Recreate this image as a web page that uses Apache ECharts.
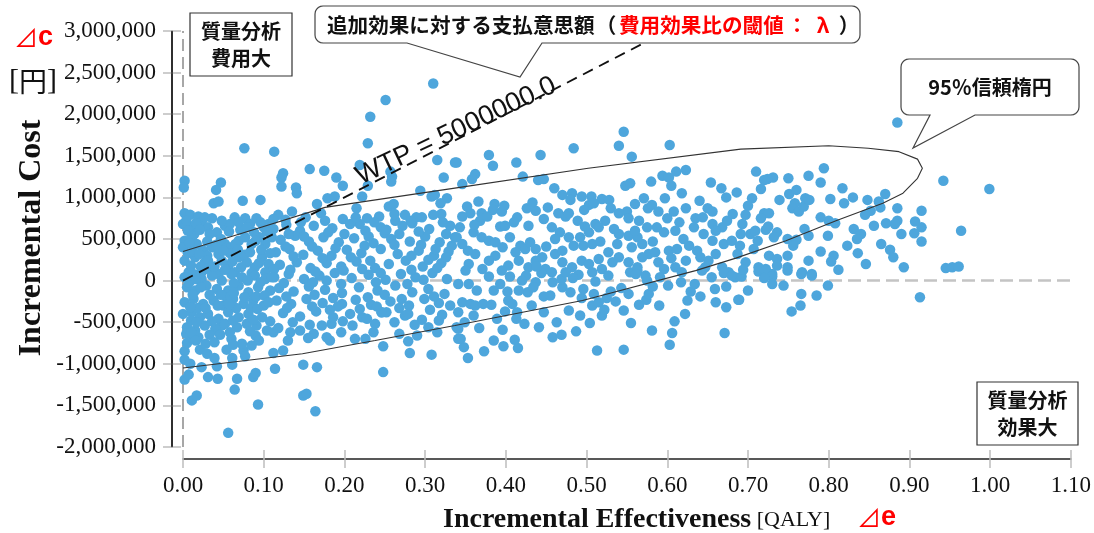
<!DOCTYPE html>
<html><head><meta charset="utf-8">
<script src="https://cdn.jsdelivr.net/npm/echarts@6/dist/echarts.min.js"></script>
<style>html,body{margin:0;padding:0;background:#fff}#c{width:1094px;height:533px}</style>
</head><body><div id="c"></div>
<script>
// ---- data ----
const xTickValues = [0,0.1,0.2,0.3,0.4,0.5,0.6,0.7,0.8,0.9,1.0,1.1];
const yTickValues = [-2000000,-1500000,-1000000,-500000,0,500000,1000000,1500000,2000000,2500000,3000000];
const wtpValue = 5000000;
const wtpLine = [[0,0],[0.6,3000000]];
const wtpLabel = 'WTP = 5000000.0';
const ellipse95 = [[0,350000],[0.083,600000],[0.176,880000],[0.343,1120000],[0.502,1350000],[0.691,1580000],[0.800,1620000],[0.849,1590000],[0.887,1550000],[0.910,1460000],[0.916,1350000],[0.910,1230000],[0.892,1050000],[0.867,930000],[0.809,720000],[0.747,480000],[0.685,270000],[0.635,120000],[0.495,-240000],[0.337,-540000],[0.238,-720000],[0.148,-880000],[0,-1050000]];

const pointsUpperLeft = [[0.310,2370000],[0.251,2170000],[0.232,1970000],[0.229,1650000],[0.076,1590000],[0.113,1550000],[0.002,1200000],[0.001,1120000],[0.047,1180000],[0.041,1090000],[0.038,930000],[0.044,950000],[0.074,960000],[0.096,970000],[0.124,1290000],[0.122,1240000],[0.122,1130000],[0.140,1120000],[0.141,1050000],[0.157,1340000],[0.175,1320000],[0.190,1240000],[0.198,1140000],[0.219,1390000],[0.229,1140000],[0.222,1010000],[0.259,1250000],[0.258,1190000],[0.257,1310000],[0.315,1450000],[0.323,1240000],[0.337,1420000],[0.294,1080000],[0.308,1010000],[0.312,1030000],[0.327,990000],[0.319,930000],[0.320,800000],[0.166,920000],[0.179,990000],[0.188,1010000],[0.215,870000],[0.255,890000],[0.261,920000],[0.243,770000],[0.228,750000],[0.219,680000],[0.245,640000],[0.250,570000],[0.263,720000],[0.275,790000],[0.284,690000],[0.296,760000],[0.331,660000],[0.337,520000]];

const pointsLowerLeft = [[0.056,-1830000],[0.093,-1490000],[0.164,-1570000],[0.149,-1380000],[0.153,-1360000],[0.011,-1440000],[0.017,-1380000],[0.064,-1310000],[0.002,-1190000],[0.007,-1130000],[0.031,-1160000],[0.043,-1180000],[0.067,-1180000],[0.087,-1160000],[0.090,-1110000],[0.114,-1060000],[0.149,-1010000],[0.166,-1040000],[0.248,-1100000],[0.023,-1040000],[0.039,-930000],[0.042,-1030000],[0.061,-930000],[0.061,-1010000],[0.054,-830000],[0.075,-840000],[0.077,-910000],[0.112,-870000],[0.124,-840000],[0.248,-790000],[0.281,-870000],[0.279,-730000],[0.308,-890000],[0.315,-620000],[0.213,-700000],[0.226,-700000],[0.182,-720000],[0.178,-680000],[0.002,-850000],[0.005,-750000],[0.013,-700000],[0.021,-830000],[0.019,-680000],[0.060,-700000],[0.090,-660000],[0.042,-600000],[0.048,-540000],[0.112,-620000],[0.118,-570000],[0.133,-620000],[0.145,-600000],[0.162,-640000],[0.210,-540000],[0.172,-540000],[0.184,-520000],[0.341,-700000],[0.341,-580000],[0.304,-560000],[0.317,-480000],[0.246,-380000],[0.222,-440000],[0.197,-280000]];

const pointsMiddle = [[0.546,1790000],[0.540,1620000],[0.556,1490000],[0.603,1630000],[0.484,1590000],[0.443,1510000],[0.413,1420000],[0.379,1510000],[0.384,1380000],[0.339,1420000],[0.362,1280000],[0.358,1220000],[0.346,1160000],[0.421,1250000],[0.440,1210000],[0.447,1220000],[0.460,1110000],[0.470,1030000],[0.482,1050000],[0.494,1010000],[0.506,1010000],[0.519,980000],[0.528,970000],[0.480,970000],[0.503,910000],[0.509,930000],[0.548,1140000],[0.554,1170000],[0.580,1190000],[0.594,1260000],[0.602,1240000],[0.605,1140000],[0.611,1310000],[0.623,1330000],[0.571,990000],[0.654,1180000],[0.667,1110000],[0.673,1000000],[0.623,870000],[0.650,870000],[0.656,830000],[0.576,870000],[0.581,910000],[0.589,830000],[0.540,810000],[0.550,830000],[0.552,750000],[0.426,870000],[0.437,840000],[0.414,760000],[0.386,920000],[0.384,850000],[0.366,950000],[0.370,810000],[0.346,770000],[0.356,810000],[0.465,810000],[0.474,770000],[0.478,810000],[0.511,680000],[0.523,720000],[0.608,830000],[0.600,750000],[0.635,750000],[0.633,640000],[0.656,680000],[0.668,640000],[0.674,720000],[0.645,560000],[0.587,640000],[0.596,580000],[0.565,720000],[0.575,640000],[0.552,540000],[0.563,520000],[0.540,560000],[0.393,650000],[0.399,660000],[0.368,720000],[0.377,770000],[0.343,640000],[0.339,520000],[0.360,580000],[0.370,520000],[0.379,480000],[0.387,460000],[0.405,520000],[0.418,420000],[0.424,380000],[0.437,380000],[0.457,640000],[0.467,580000],[0.461,500000],[0.478,520000],[0.492,520000],[0.503,580000],[0.515,640000],[0.484,420000],[0.496,420000],[0.507,440000],[0.527,340000],[0.494,240000],[0.503,200000],[0.515,260000],[0.461,320000],[0.470,220000],[0.412,340000],[0.416,240000],[0.428,160000],[0.437,240000],[0.362,320000],[0.354,200000],[0.350,120000],[0.387,300000],[0.556,400000],[0.569,440000],[0.577,320000],[0.585,340000],[0.602,360000],[0.612,380000],[0.627,420000],[0.637,360000],[0.641,280000],[0.647,160000],[0.623,240000],[0.589,220000],[0.596,140000],[0.552,220000],[0.563,160000],[0.569,280000],[0.668,160000],[0.676,100000],[0.684,40000],[0.670,440000],[0.680,480000],[0.687,320000],[0.656,480000],[0.346,440000],[0.379,240000],[0.403,180000],[0.445,280000],[0.449,140000],[0.482,160000],[0.519,140000],[0.532,220000],[0.610,160000],[0.651,240000],[0.395,830000]];

const pointsRight = [[0.885,1900000],[0.794,1350000],[0.942,1200000],[0.999,1100000],[0.964,600000],[0.945,150000],[0.953,160000],[0.961,170000],[0.893,160000],[0.915,840000],[0.915,640000],[0.907,710000],[0.906,570000],[0.915,470000],[0.885,870000],[0.885,720000],[0.882,680000],[0.871,690000],[0.865,440000],[0.876,370000],[0.870,1040000],[0.862,950000],[0.864,880000],[0.852,840000],[0.848,970000],[0.831,620000],[0.840,560000],[0.835,500000],[0.836,330000],[0.817,1110000],[0.819,930000],[0.802,980000],[0.800,720000],[0.808,690000],[0.799,540000],[0.806,300000],[0.803,230000],[0.775,1260000],[0.750,1230000],[0.731,1240000],[0.724,1220000],[0.720,1210000],[0.710,1310000],[0.716,1100000],[0.705,990000],[0.739,970000],[0.751,1040000],[0.760,1090000],[0.758,930000],[0.755,870000],[0.763,830000],[0.769,890000],[0.771,990000],[0.776,970000],[0.720,810000],[0.726,810000],[0.697,790000],[0.693,680000],[0.691,560000],[0.725,650000],[0.722,610000],[0.736,580000],[0.732,520000],[0.703,560000],[0.709,600000],[0.770,620000],[0.775,540000],[0.749,500000],[0.760,490000],[0.756,420000],[0.726,300000],[0.736,260000],[0.749,300000],[0.749,160000],[0.736,180000],[0.697,220000],[0.713,160000],[0.722,140000],[0.730,80000],[0.775,240000],[0.767,100000],[0.779,80000],[0.692,50000],[0.689,-230000],[0.713,110000],[0.722,120000],[0.730,50000],[0.730,-40000],[0.749,120000],[0.766,80000],[0.779,60000],[0.766,-160000],[0.785,-180000],[0.765,-300000],[0.754,-370000],[0.913,-200000]];

const pointsMiddleLow = [[0.353,-930000],[0.373,-850000],[0.397,-790000],[0.415,-810000],[0.411,-710000],[0.385,-720000],[0.348,-800000],[0.344,-700000],[0.458,-680000],[0.469,-650000],[0.463,-500000],[0.513,-840000],[0.546,-830000],[0.504,-510000],[0.555,-510000],[0.581,-600000],[0.606,-630000],[0.609,-490000],[0.603,-770000],[0.671,-630000],[0.673,-320000],[0.688,-230000],[0.625,-240000],[0.629,-130000],[0.641,-190000],[0.659,-100000],[0.601,-60000],[0.634,-40000],[0.673,-70000],[0.546,-360000],[0.565,-290000],[0.574,-230000],[0.552,-160000],[0.577,-160000],[0.582,-70000],[0.575,0],[0.543,-90000],[0.519,-420000],[0.522,-350000],[0.507,-300000],[0.525,-210000],[0.515,-260000],[0.509,-160000],[0.494,-210000],[0.496,-100000],[0.511,-10000],[0.490,70000],[0.507,100000],[0.458,-20000],[0.470,-80000],[0.469,20000],[0.447,-190000],[0.455,-180000],[0.447,-380000],[0.437,-20000],[0.427,-140000],[0.416,-120000],[0.423,-520000],[0.413,-460000],[0.399,-370000],[0.403,-240000],[0.408,-280000],[0.414,-380000],[0.389,-460000],[0.367,-570000],[0.349,-500000],[0.341,-380000],[0.339,-560000],[0.346,-260000],[0.356,-280000],[0.362,-300000],[0.372,-280000],[0.382,-290000],[0.385,-120000],[0.393,-40000],[0.379,50000],[0.341,-40000],[0.354,-40000],[0.405,50000],[0.425,60000],[0.444,90000],[0.457,100000],[0.474,100000],[0.554,100000],[0.563,120000],[0.573,60000],[0.591,40000],[0.618,100000],[0.643,120000],[0.670,90000],[0.680,60000]];

const pointsLeftDense = [[0.002,810000],[0.009,790000],[0.019,770000],[0.000,680000],[0.011,640000],[0.023,700000],[0.031,640000],[0.036,750000],[0.042,580000],[0.052,660000],[0.058,680000],[0.064,760000],[0.077,750000],[0.083,680000],[0.091,750000],[0.100,640000],[0.106,680000],[0.002,480000],[0.011,520000],[0.000,400000],[0.017,440000],[0.025,360000],[0.036,400000],[0.044,320000],[0.052,440000],[0.060,400000],[0.069,480000],[0.077,520000],[0.085,440000],[0.095,520000],[0.102,440000],[0.110,520000],[0.002,240000],[0.015,280000],[0.027,220000],[0.036,160000],[0.048,240000],[0.056,180000],[0.069,280000],[0.079,220000],[0.089,160000],[0.098,280000],[0.106,200000],[0.007,100000],[0.023,100000],[0.044,80000],[0.064,100000],[0.085,90000],[0.102,100000],[0.002,40000],[0.013,80000],[0.023,20000],[0.036,60000],[0.048,0],[0.060,80000],[0.073,40000],[0.089,60000],[0.102,20000],[0.005,-80000],[0.015,-120000],[0.029,-60000],[0.042,-100000],[0.056,-120000],[0.069,-60000],[0.081,-140000],[0.093,-80000],[0.108,-120000],[0.002,-260000],[0.013,-220000],[0.025,-280000],[0.038,-240000],[0.050,-300000],[0.062,-220000],[0.075,-280000],[0.087,-240000],[0.100,-300000],[0.000,-400000],[0.011,-380000],[0.021,-440000],[0.031,-400000],[0.044,-460000],[0.056,-380000],[0.069,-440000],[0.081,-400000],[0.098,-440000],[0.005,-560000],[0.015,-600000],[0.027,-540000],[0.040,-580000],[0.052,-520000],[0.067,-560000],[0.079,-520000],[0.091,-540000],[0.006,330000],[0.030,300000],[0.058,330000],[0.071,610000],[0.014,560000],[0.047,500000],[0.088,580000],[0.097,370000],[0.033,-170000],[0.066,-330000],[0.010,-480000],[0.084,-330000],[0.046,-650000],[0.073,-760000],[0.028,-760000],[0.094,-720000],[0.004,-640000],[0.018,-330000],[0.054,-200000],[0.091,-190000],[0.039,170000],[0.076,310000],[0.008,-20000],[0.063,-30000]];

const pointsCenterLeft = [[0.118,790000],[0.135,830000],[0.152,760000],[0.171,810000],[0.198,740000],[0.262,800000],[0.289,760000],[0.112,620000],[0.128,670000],[0.145,600000],[0.162,660000],[0.185,630000],[0.207,680000],[0.226,600000],[0.272,660000],[0.305,620000],[0.322,700000],[0.121,490000],[0.139,540000],[0.156,470000],[0.174,520000],[0.193,460000],[0.212,510000],[0.236,450000],[0.258,500000],[0.281,470000],[0.300,530000],[0.318,460000],[0.333,420000],[0.115,340000],[0.132,380000],[0.149,310000],[0.167,360000],[0.184,300000],[0.203,370000],[0.221,330000],[0.245,380000],[0.266,320000],[0.292,360000],[0.311,300000],[0.329,350000],[0.120,190000],[0.141,220000],[0.158,150000],[0.178,210000],[0.196,170000],[0.215,230000],[0.238,150000],[0.255,200000],[0.276,240000],[0.297,170000],[0.320,210000],[0.113,40000],[0.131,80000],[0.150,20000],[0.169,60000],[0.188,90000],[0.209,30000],[0.230,70000],[0.251,10000],[0.270,80000],[0.288,40000],[0.309,90000],[0.327,20000],[0.119,-90000],[0.137,-130000],[0.156,-70000],[0.176,-110000],[0.197,-150000],[0.218,-80000],[0.241,-120000],[0.263,-60000],[0.284,-140000],[0.304,-100000],[0.324,-160000],[0.116,-240000],[0.134,-280000],[0.153,-220000],[0.173,-270000],[0.192,-310000],[0.214,-230000],[0.233,-290000],[0.257,-250000],[0.280,-300000],[0.299,-220000],[0.317,-270000],[0.124,-390000],[0.145,-430000],[0.165,-370000],[0.186,-440000],[0.207,-400000],[0.228,-460000],[0.252,-380000],[0.275,-420000],[0.296,-470000],[0.321,-410000],[0.279,-400000],[0.246,-380000]];

const pointsLeftExtra = [[0.004,720000],[0.016,690000],[0.027,760000],[0.048,720000],[0.069,700000],[0.096,700000],[0.112,740000],[0.006,600000],[0.021,610000],[0.033,560000],[0.057,590000],[0.079,640000],[0.104,590000],[0.008,450000],[0.030,470000],[0.041,430000],[0.065,440000],[0.090,480000],[0.012,350000],[0.020,320000],[0.050,360000],[0.068,370000],[0.083,340000],[0.108,330000],[0.010,180000],[0.022,170000],[0.031,240000],[0.061,230000],[0.072,160000],[0.094,210000],[0.113,140000],[0.016,20000],[0.028,140000],[0.052,130000],[0.080,0],[0.096,-20000],[0.110,40000],[0.012,-170000],[0.022,-80000],[0.047,-170000],[0.063,-150000],[0.076,-200000],[0.101,-180000],[0.009,-320000],[0.028,-330000],[0.043,-300000],[0.057,-280000],[0.092,-340000],[0.106,-260000],[0.017,-500000],[0.036,-490000],[0.062,-480000],[0.087,-470000],[0.108,-490000],[0.010,-620000],[0.033,-650000],[0.058,-620000],[0.083,-610000],[0.104,-600000],[0.016,-720000],[0.039,-740000],[0.062,-770000],[0.085,-780000],[0.002,-950000],[0.009,-1000000],[0.030,-880000]];

const pointsCenterExtra = [[0.127,730000],[0.146,700000],[0.176,720000],[0.214,760000],[0.237,700000],[0.282,720000],[0.310,790000],[0.131,560000],[0.150,530000],[0.180,580000],[0.200,560000],[0.230,530000],[0.252,610000],[0.268,560000],[0.292,590000],[0.326,560000],[0.127,410000],[0.160,410000],[0.189,390000],[0.225,420000],[0.262,430000],[0.295,430000],[0.313,380000],[0.137,290000],[0.173,270000],[0.208,280000],[0.232,240000],[0.283,300000],[0.304,250000],[0.326,280000],[0.133,130000],[0.164,110000],[0.199,120000],[0.222,140000],[0.245,90000],[0.283,130000],[0.315,150000],[0.125,-30000],[0.161,-20000],[0.178,0],[0.196,-40000],[0.239,-20000],[0.278,-40000],[0.298,10000],[0.128,-190000],[0.163,-170000],[0.186,-210000],[0.229,-200000],[0.250,-170000],[0.271,-220000],[0.311,-190000],[0.129,-330000],[0.160,-310000],[0.182,-350000],[0.219,-340000],[0.240,-310000],[0.268,-330000],[0.306,-350000],[0.331,-300000],[0.136,-500000],[0.157,-530000],[0.198,-490000],[0.238,-520000],[0.262,-500000],[0.287,-530000],[0.130,-720000],[0.155,-690000],[0.196,-620000],[0.236,-620000],[0.268,-640000],[0.290,-660000]];

const pointsMiddleExtra = [[0.352,890000],[0.398,900000],[0.433,940000],[0.452,880000],[0.497,850000],[0.530,870000],[0.361,670000],[0.410,700000],[0.428,660000],[0.447,740000],[0.489,720000],[0.498,650000],[0.534,620000],[0.353,360000],[0.396,400000],[0.430,460000],[0.450,410000],[0.470,360000],[0.517,470000],[0.538,440000],[0.371,140000],[0.395,120000],[0.420,0],[0.438,170000],[0.483,30000],[0.527,60000],[0.540,280000],[0.364,-120000],[0.402,-130000],[0.434,-80000],[0.480,-140000],[0.530,-130000],[0.360,-420000],[0.432,-300000],[0.478,-360000],[0.492,-420000],[0.536,-250000],[0.396,-590000],[0.441,-560000],[0.487,-610000]];

const pointsRightExtra = [[0.560,920000],[0.597,990000],[0.618,1050000],[0.640,960000],[0.686,1060000],[0.700,900000],[0.615,700000],[0.644,760000],[0.681,800000],[0.716,750000],[0.560,600000],[0.610,600000],[0.660,600000],[0.712,480000],[0.582,470000],[0.620,500000],[0.690,420000],[0.707,380000],[0.561,80000],[0.605,270000],[0.660,320000],[0.694,130000],[0.720,30000],[0.617,-20000],[0.655,40000],[0.590,-300000],[0.622,-400000],[0.660,-260000],[0.700,-120000],[0.744,-60000],[0.790,1180000],[0.830,1000000],[0.790,760000],[0.845,790000],[0.823,420000],[0.790,350000],[0.856,660000],[0.890,560000],[0.812,130000],[0.846,200000],[0.799,-60000],[0.880,280000]];

const points = [].concat(pointsUpperLeft, pointsLowerLeft, pointsMiddle, pointsRight, pointsMiddleLow, pointsLeftDense, pointsCenterLeft, pointsLeftExtra, pointsCenterExtra, pointsMiddleExtra, pointsRightExtra);

// ---- helpers for annotation shapes (pixel layout) ----
function calloutPoints(x1, y1, x2, y2, r, baseL, baseR, tip) {
  const pts = [];
  function arc(cx, cy, a0, a1) {
    const n = 5;
    for (let i = 0; i <= n; i++) {
      const a = a0 + (a1 - a0) * i / n;
      pts.push([cx + r * Math.cos(a), cy + r * Math.sin(a)]);
    }
  }
  arc(x1 + r, y1 + r, Math.PI, 1.5 * Math.PI);
  arc(x2 - r, y1 + r, 1.5 * Math.PI, 2 * Math.PI);
  arc(x2 - r, y2 - r, 0, 0.5 * Math.PI);
  pts.push([baseR, y2], tip, [baseL, y2]);
  arc(x1 + r, y2 - r, 0.5 * Math.PI, Math.PI);
  return pts;
}

// ---- chart ----
const chart = echarts.init(document.getElementById('c'), null, {renderer: 'canvas'});
const serif = '"Liberation Serif","Times New Roman",serif';
const jp = '"Noto Sans CJK JP","Noto Sans",sans-serif';
const tickStyle = {color: '#bdbdbd', width: 1.5};
const axisLineStyle = {color: '#222', width: 1.5};
const xMin = xTickValues[0], xMax = xTickValues[xTickValues.length - 1];
const yMin = yTickValues[0], yMax = yTickValues[yTickValues.length - 1];
const yAxisOffset = 11;
const xBase = {type: 'value', min: xMin, max: xMax, interval: 0.1, position: 'bottom', offset: 12, splitLine: {show: false}};
const yBase = {type: 'value', min: yMin, max: yMax, interval: 500000, position: 'left', offset: yAxisOffset, splitLine: {show: false}};
const cjkBold = 'bold 20.6px ' + jp;

const option = {
  animation: false,
  backgroundColor: '#fff',
  grid: {left: 183, right: 22, top: 31, bottom: 86, containLabel: false},
  xAxis: [
    Object.assign({}, xBase, {
      axisLine: {show: true, onZero: false, lineStyle: axisLineStyle},
      axisTick: {show: true, length: 9, lineStyle: tickStyle},
      axisLabel: {margin: 15, fontFamily: serif, fontSize: 23, color: '#111', formatter: v => v.toFixed(2)}
    }),
    Object.assign({}, xBase, {
      axisLine: {show: false, onZero: false},
      axisTick: {show: true, inside: true, length: 9, lineStyle: tickStyle},
      axisLabel: {show: false}
    })
  ],
  yAxis: [
    Object.assign({}, yBase, {
      axisLine: {show: true, onZero: false, lineStyle: axisLineStyle},
      axisTick: {show: true, length: 9, lineStyle: tickStyle},
      axisLabel: {margin: 16, fontFamily: serif, fontSize: 23, color: '#111', formatter: v => v.toLocaleString('en-US')}
    }),
    Object.assign({}, yBase, {
      axisLine: {show: false, onZero: false},
      axisTick: {show: true, inside: true, length: 9, lineStyle: tickStyle},
      axisLabel: {show: false}
    })
  ],
  series: [
    {type: 'line', data: [[xMin, 0], [xMax, 0]], symbol: 'none', silent: true, z: 1,
      lineStyle: {color: '#c4c4c4', width: 2.5, type: [13, 6]}},
    {type: 'line', data: [[0, yMin], [0, yMax]], symbol: 'none', silent: true, z: 1,
      lineStyle: {color: '#8a8a8a', width: 1.5, type: [12, 6]}},
    {type: 'scatter', data: points, symbolSize: 10.5, z: 2,
      itemStyle: {color: '#4ea6dc', opacity: 1}},
    {type: 'line', data: ellipse95, symbol: 'none', silent: true, z: 3, clip: true,
      lineStyle: {color: '#333', width: 1.1}},
    {type: 'line', data: wtpLine, symbol: 'none', silent: true, z: 4, clip: true,
      lineStyle: {color: '#111', width: 1.8, type: [11, 7]}}
  ],
  graphic: [
    {type: 'text', x: 32, y: 238, rotation: Math.PI / 2, z: 10,
      style: {text: 'Incremental Cost', font: 'bold 32px ' + serif, fill: '#111', align: 'center', verticalAlign: 'middle'}},
    {type: 'text', x: 14, y: 38, z: 10,
      style: {text: '{t|⊿}{c|c}', align: 'left', verticalAlign: 'middle',
        rich: {t: {fontFamily: jp, fontSize: 24, fill: '#ff0000'}, c: {fontFamily: '"Liberation Sans",Arial,sans-serif', fontWeight: 'bold', fontSize: 27, fill: '#ff0000'}}}},
    {type: 'text', x: 33, y: 81, z: 10,
      style: {text: '{b|[}{k|円}{b|]}', align: 'center', verticalAlign: 'middle',
        rich: {b: {fontFamily: serif, fontSize: 30, fill: '#111'}, k: {fontFamily: jp, fontSize: 28, fill: '#111'}}}},
    {type: 'text', x: 443, y: 520, z: 10,
      style: {text: '{b|Incremental Effectiveness}{q| [QALY]}', align: 'left', verticalAlign: 'middle',
        rich: {b: {fontFamily: serif, fontWeight: 'bold', fontSize: 28, fill: '#111'}, q: {fontFamily: serif, fontSize: 22, fill: '#111'}}}},
    {type: 'text', x: 857, y: 518, z: 10,
      style: {text: '{t|⊿}{c|e}', align: 'left', verticalAlign: 'middle',
        rich: {t: {fontFamily: jp, fontSize: 24, fill: '#ff0000'}, c: {fontFamily: '"Liberation Sans",Arial,sans-serif', fontWeight: 'bold', fontSize: 27, fill: '#ff0000'}}}},
    // quadrant boxes
    {type: 'rect', z: 10, shape: {x: 190, y: 13, width: 102, height: 63}, style: {fill: '#fff', stroke: '#333', lineWidth: 1.2}},
    {type: 'text', x: 241, y: 45, z: 11,
      style: {text: '質量分析\n費用大', font: 'bold 20px ' + jp, fill: '#111', align: 'center', verticalAlign: 'middle', lineHeight: 27}},
    {type: 'rect', z: 10, shape: {x: 977, y: 382, width: 101, height: 63}, style: {fill: '#fff', stroke: '#333', lineWidth: 1.2}},
    {type: 'text', x: 1027.5, y: 414, z: 11,
      style: {text: '質量分析\n効果大', font: 'bold 20px ' + jp, fill: '#111', align: 'center', verticalAlign: 'middle', lineHeight: 27}},
    // callout: WTP
    {type: 'polygon', z: 10, shape: {points: calloutPoints(315, 6, 860, 43, 8, 407, 542, [520, 77])},
      style: {fill: '#fff', stroke: '#444', lineWidth: 1.2}},
    {type: 'text', x: 327, y: 25, z: 11, style: {text: '追加効果に対する支払意思額', font: cjkBold, fill: '#111', align: 'left', verticalAlign: 'middle'}},
    {type: 'text', x: 606, y: 25, z: 11, style: {text: '（', font: cjkBold, fill: '#111', align: 'center', verticalAlign: 'middle'}},
    {type: 'text', x: 619, y: 25, z: 11, style: {text: '費用効果比の閾値', font: cjkBold, fill: '#ff0000', align: 'left', verticalAlign: 'middle'}},
    {type: 'text', x: 797, y: 25, z: 11, style: {text: '：', font: cjkBold, fill: '#ff0000', align: 'center', verticalAlign: 'middle'}},
    {type: 'text', x: 823, y: 25, z: 11, style: {text: 'λ', font: cjkBold, fill: '#ff0000', align: 'center', verticalAlign: 'middle'}},
    {type: 'text', x: 849, y: 25, z: 11, style: {text: '）', font: cjkBold, fill: '#111', align: 'center', verticalAlign: 'middle'}},
    // callout: ellipse
    {type: 'polygon', z: 10, shape: {points: calloutPoints(901, 59, 1079, 115, 8, 930, 975, [913, 148])},
      style: {fill: '#fff', stroke: '#444', lineWidth: 1.2}},
    {type: 'text', x: 990, y: 87, z: 11,
      style: {text: '95％信頼楕円', font: 'bold 20px ' + jp, fill: '#111', align: 'center', verticalAlign: 'middle'}},
    // WTP label
    {type: 'text', x: 456, y: 131, rotation: 25.5 * Math.PI / 180, z: 12,
      style: {text: wtpLabel, font: '27px "Liberation Sans",Arial,sans-serif', fill: '#111', align: 'center', verticalAlign: 'middle'}}
  ]
};
chart.setOption(option);

// make sure the offset y-axis line is drawn (from the axis' own scale)
const axisX = chart.convertToPixel({xAxisIndex: 0}, xMin) - yAxisOffset;
const axisTop = chart.convertToPixel({yAxisIndex: 0}, yMax);
const axisBottom = chart.convertToPixel({yAxisIndex: 0}, yMin);
const g = option.graphic.slice();
g.push({type: 'line', z: 9, shape: {x1: axisX, y1: axisTop, x2: axisX, y2: axisBottom},
  style: {stroke: axisLineStyle.color, lineWidth: axisLineStyle.width}});
chart.setOption({graphic: g});
</script>
</body></html>
